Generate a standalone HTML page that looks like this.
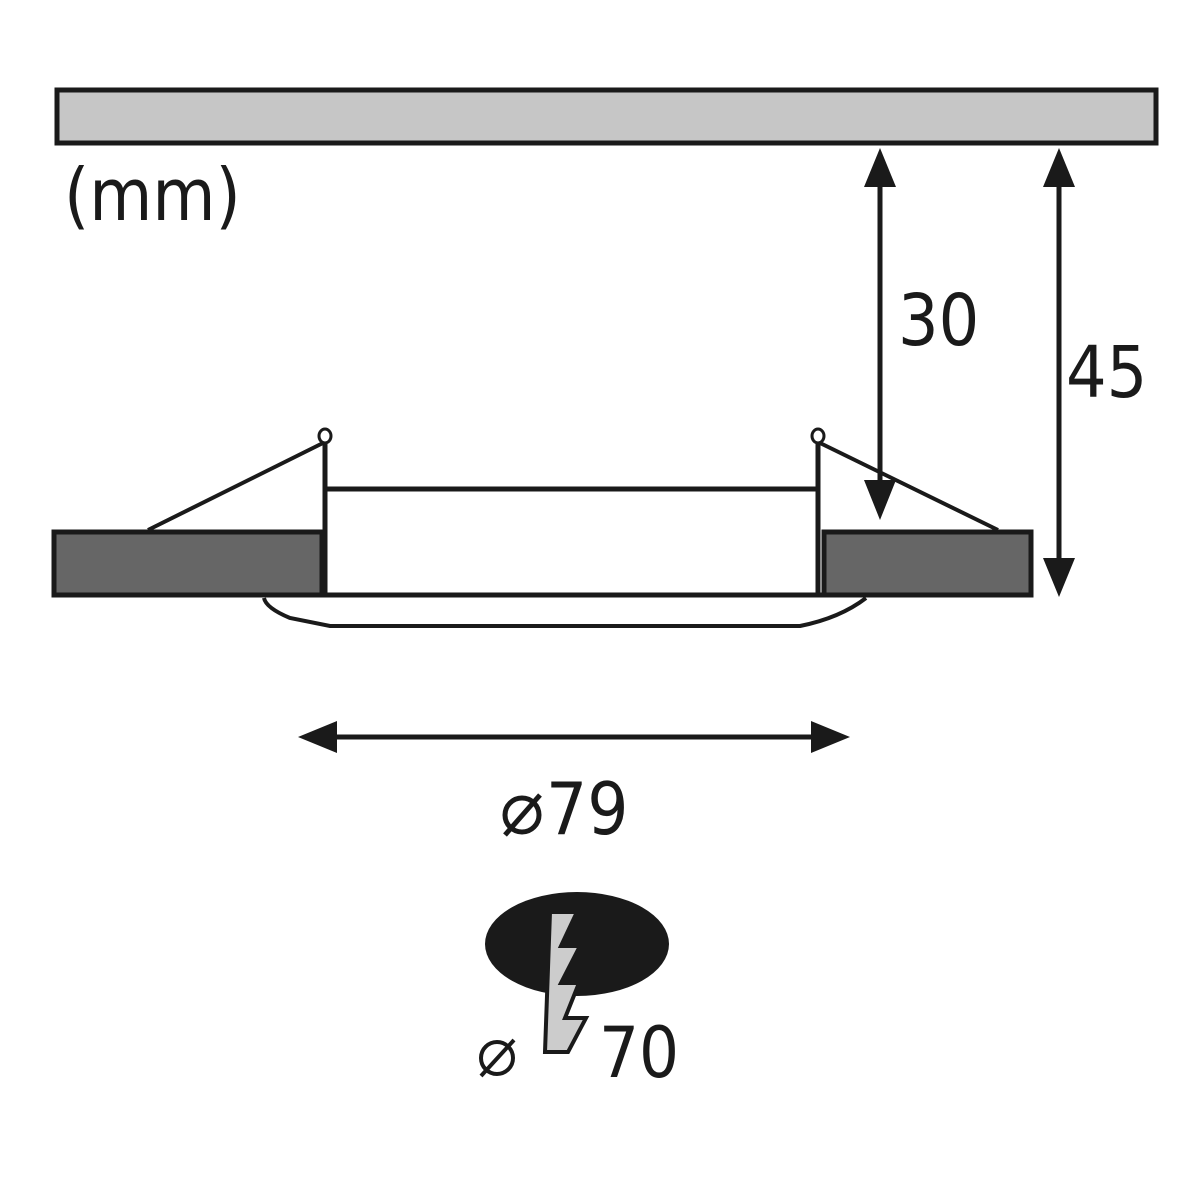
<!DOCTYPE html>
<html><head><style>
html,body{margin:0;padding:0;background:#fff;}
svg{display:block;}
text{font-family:"DejaVu Sans Condensed","Liberation Sans Narrow","Liberation Sans",sans-serif;fill:#1a1a1a;}
</style></head><body>
<svg width="1200" height="1199" viewBox="0 0 1200 1199" xmlns="http://www.w3.org/2000/svg">
<rect x="57" y="90" width="1099" height="53" fill="#c6c6c6" stroke="#1a1a1a" stroke-width="5"/>
<text x="64" y="220" font-size="72" letter-spacing="0">(mm)</text>

<!-- arrow 30 -->
<line x1="880" y1="180" x2="880" y2="490" stroke="#1a1a1a" stroke-width="5"/>
<polygon points="880,148 864,187 896,187" fill="#1a1a1a"/>
<polygon points="880,520 864,480 896,480" fill="#1a1a1a"/>
<text x="898" y="345" font-size="71">30</text>
<!-- arrow 45 -->
<line x1="1059" y1="180" x2="1059" y2="565" stroke="#1a1a1a" stroke-width="5"/>
<polygon points="1059,148 1043,187 1075,187" fill="#1a1a1a"/>
<polygon points="1059,597 1043,558 1075,558" fill="#1a1a1a"/>
<text x="1066" y="397" font-size="71">45</text>

<!-- lamp -->
<path d="M264,598 Q266,608 290,618 L330,626 L800,626 Q840,618 866,598" fill="none" stroke="#1a1a1a" stroke-width="4"/>
<rect x="54" y="532" width="268" height="63" fill="#666" stroke="#1a1a1a" stroke-width="5"/>
<rect x="824" y="532" width="207" height="63" fill="#666" stroke="#1a1a1a" stroke-width="5"/>
<line x1="322" y1="595" x2="824" y2="595" stroke="#1a1a1a" stroke-width="5"/>
<line x1="325" y1="489" x2="818" y2="489" stroke="#1a1a1a" stroke-width="5"/>
<line x1="325" y1="440" x2="325" y2="595" stroke="#1a1a1a" stroke-width="5"/>
<line x1="818" y1="440" x2="818" y2="595" stroke="#1a1a1a" stroke-width="5"/>
<line x1="325" y1="442" x2="148" y2="530" stroke="#1a1a1a" stroke-width="4"/>
<line x1="818" y1="442" x2="998" y2="530" stroke="#1a1a1a" stroke-width="4"/>
<ellipse cx="325" cy="436" rx="6" ry="7" fill="#fff" stroke="#1a1a1a" stroke-width="3"/>
<ellipse cx="818" cy="436" rx="6" ry="7" fill="#fff" stroke="#1a1a1a" stroke-width="3"/>

<!-- diameter 79 -->
<line x1="320" y1="737" x2="830" y2="737" stroke="#1a1a1a" stroke-width="5"/>
<polygon points="298,737 337,721 337,753" fill="#1a1a1a"/>
<polygon points="850,737 811,721 811,753" fill="#1a1a1a"/>
<circle cx="522" cy="815" r="17" fill="none" stroke="#1a1a1a" stroke-width="5"/>
<line x1="505" y1="835" x2="540" y2="795" stroke="#1a1a1a" stroke-width="5"/>
<text x="546" y="834" font-size="72">79</text>

<!-- cutout symbol -->
<ellipse cx="577" cy="944" rx="92" ry="52" fill="#1a1a1a"/>
<polygon points="550,912 577,912 561,946 580,946 561,983 579,983 565,1018 586,1018 568,1052 545,1052" fill="#ccc" stroke="#1a1a1a" stroke-width="4" stroke-linejoin="miter"/>
<circle cx="497" cy="1058" r="16" fill="none" stroke="#1a1a1a" stroke-width="4"/>
<line x1="481" y1="1076" x2="514" y2="1040" stroke="#1a1a1a" stroke-width="4"/>
<text x="599" y="1077" font-size="70">70</text>
</svg>
</body></html>
